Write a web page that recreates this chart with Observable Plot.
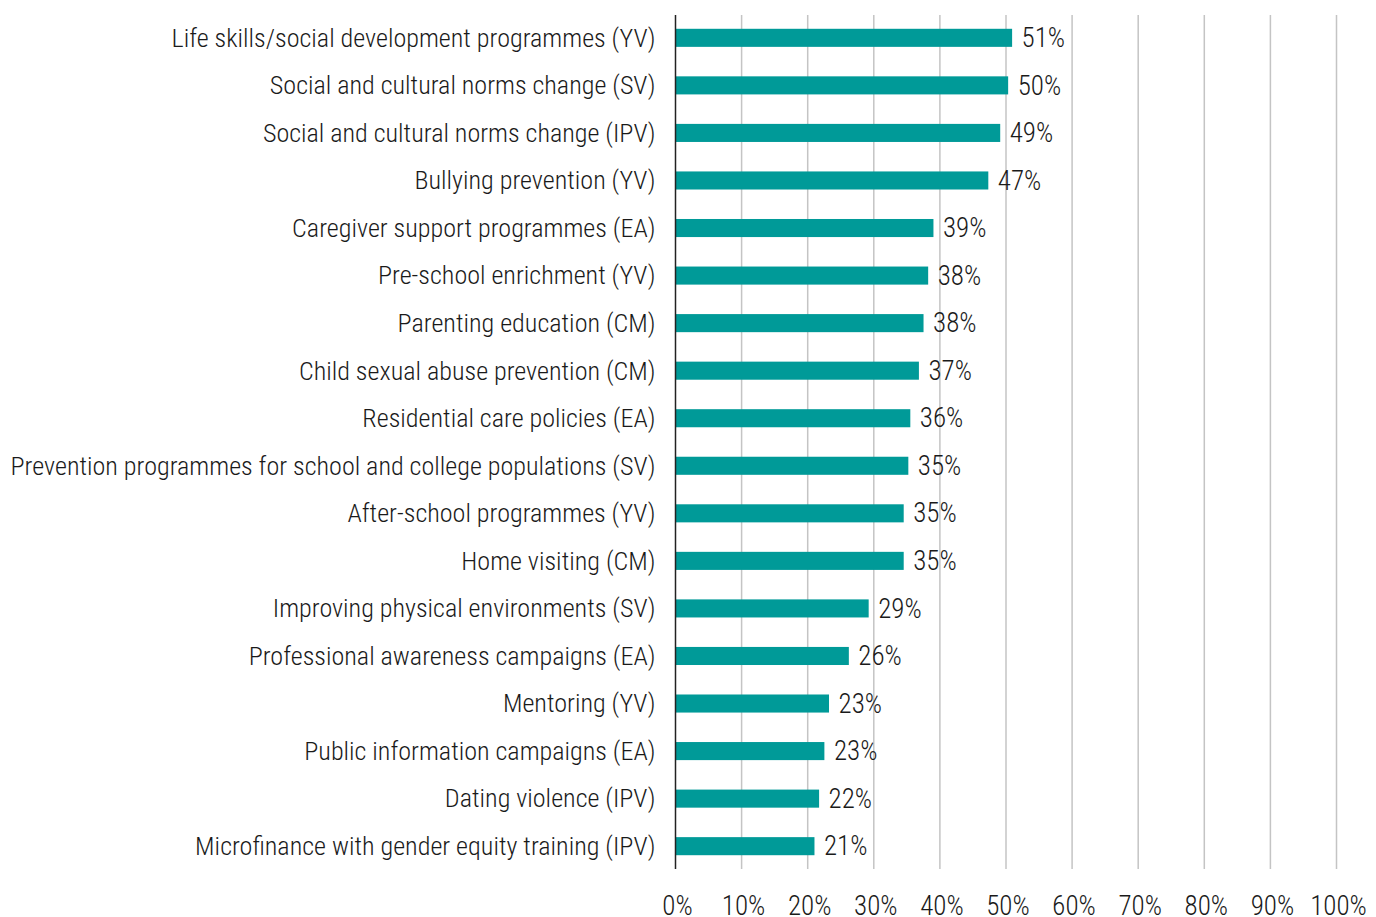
<!DOCTYPE html>
<html>
<head>
<meta charset="utf-8">
<script src="https://cdn.jsdelivr.net/npm/d3@7"></script>
<script src="https://cdn.jsdelivr.net/npm/@observablehq/plot@0.6"></script>
<style>
  html, body { margin: 0; padding: 0; background: #fff; }
  #chart { width: 1376px; height: 917px; }
  #chart svg text { font-family: Roboto, sans-serif; font-stretch: condensed; font-weight: 300; }
</style>
</head>
<body>
<div id="chart"></div>
<script>
const categories = [
  "Life skills/social development programmes (YV)",
  "Social and cultural norms change (SV)",
  "Social and cultural norms change (IPV)",
  "Bullying prevention (YV)",
  "Caregiver support programmes (EA)",
  "Pre-school enrichment (YV)",
  "Parenting education (CM)",
  "Child sexual abuse prevention (CM)",
  "Residential care policies (EA)",
  "Prevention programmes for school and college populations (SV)",
  "After-school programmes (YV)",
  "Home visiting (CM)",
  "Improving physical environments (SV)",
  "Professional awareness campaigns (EA)",
  "Mentoring (YV)",
  "Public information campaigns (EA)",
  "Dating violence (IPV)",
  "Microfinance with gender equity training (IPV)"
];
const values = [51.0, 50.4, 49.2, 47.4, 39.1, 38.3, 37.6, 36.9, 35.6, 35.3, 34.6, 34.6, 29.3, 26.3, 23.3, 22.6, 21.8, 21.1];
const xTicks = [0, 10, 20, 30, 40, 50, 60, 70, 80, 90, 100];

const data = categories.map((c, i) => ({category: c, value: values[i]}));

const chart = Plot.plot({
  width: 1376,
  height: 917,
  marginLeft: 675,
  marginRight: 40,
  marginTop: 15,
  marginBottom: 48,
  style: {fontFamily: "Roboto, sans-serif", fontSize: "26px", color: "#1a1a1a", background: "#fff"},
  x: {domain: [0, 100]},
  y: {domain: categories, paddingInner: 0.62, paddingOuter: 0.29, round: false},
  marks: [
    Plot.ruleX(xTicks.slice(1), {stroke: "#c4c4c4", strokeWidth: 1.5}),
    Plot.barX(data, {x: "value", y: "category", fill: "#009a98"}),
    Plot.ruleX([0], {stroke: "#222", strokeWidth: 1.5}),
    Plot.text(data, {x: "value", y: "category", text: d => Math.round(d.value) + "%", textAnchor: "start", dx: 9, fontSize: 27, fill: "#1a1a1a"}),
    Plot.axisY({tickSize: 0, tickPadding: 20, fontSize: 26.1, label: null}),
    Plot.axisX({ticks: xTicks, tickFormat: d => d + "%", tickSize: 0, tickPadding: 26, fontSize: 27, dx: 2, label: null})
  ]
});
document.getElementById("chart").appendChild(chart);
</script>
</body>
</html>
